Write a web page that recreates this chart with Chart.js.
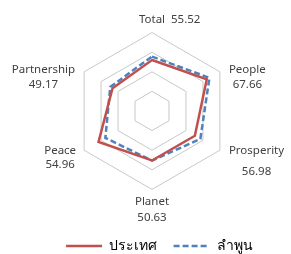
<!DOCTYPE html>
<html>
<head>
<meta charset="utf-8">
<script src="https://cdn.jsdelivr.net/npm/chart.js@4.4.1/dist/chart.umd.min.js"></script>
<style>
  html, body { margin: 0; padding: 0; background: #fff; }
  #wrap { width: 291px; height: 254px; }
</style>
</head>
<body>
<div id="wrap"><canvas id="radarChart" width="291" height="254"></canvas></div>
<script>
// ด้านต่างๆ (เรียงตามเข็มนาฬิกาจากด้านบน)
const categories = ["Total", "People", "Prosperity", "Planet", "Peace", "Partnership"];
// ค่าของลำพูน (ตัวเลขที่แสดงบนป้าย)
const lamphunValues = [55.52, 67.66, 56.98, 50.63, 54.96, 49.17];
// ค่าของประเทศ (อ่านจากภาพ)
const countryValues = [52.0, 64.5, 50.5, 50.5, 63.0, 46.5];
const seriesNames = ["ประเทศ", "ลำพูน"];

// ป้ายแต่ละด้าน: Total อยู่บรรทัดเดียว ที่เหลือขึ้นบรรทัดใหม่
const pointLabels = categories.map((c, i) => {
  const v = lamphunValues[i].toFixed(2);
  if (i === 0) return c + "  " + v;
  if (c === "Prosperity") return [c, "", v];
  return [c, v];
});

const lineColors = ["#c0504d", "#4f81bd"];
const lineDashes = [[], [6, 3]];

// ระยะห่างของป้ายจากมุมหกเหลี่ยม (แนวนอน, บรรทัดแรก, บรรทัดที่สอง)
const labelGap = [0, 9, 9, 0, 8, 9];
const labelDy = [[-13, -13], [-2, 13], [1, 22], [12, 28], [1, 15], [-2, 13]];

// วาดป้ายเองให้ตำแหน่งเหมือน Excel
const sideLabels = {
  id: "sideLabels",
  afterDraw(chart) {
    const scale = chart.scales.r;
    const c = chart.ctx;
    c.save();
    c.font = "11.5px 'Noto Sans', sans-serif";
    c.fillStyle = "#404040";
    c.textBaseline = "middle";
    categories.forEach((name, i) => {
      const p = scale.getPointPosition(i, scale.drawingArea);
      const val = lamphunValues[i].toFixed(2);
      if (i === 0) {
        const w = c.measureText(name).width;
        c.textAlign = "left";
        c.fillText(name + "  " + val, p.x - w / 2, p.y + labelDy[i][0]);
        return;
      }
      const w = Math.max(c.measureText(name).width, c.measureText(val).width);
      let cx = p.x;
      if (p.x > scale.xCenter + 1) cx = p.x + labelGap[i] + w / 2;
      else if (p.x < scale.xCenter - 1) cx = p.x - labelGap[i] - w / 2;
      c.textAlign = "center";
      c.fillText(name, cx, p.y + labelDy[i][0]);
      c.fillText(val, cx, p.y + labelDy[i][1]);
    });
    c.restore();
  },
};

const ctx = document.getElementById("radarChart").getContext("2d");
new Chart(ctx, {
  type: "radar",
  data: {
    labels: pointLabels,
    datasets: [
      {
        label: seriesNames[0],
        data: countryValues,
        borderColor: lineColors[0],
        borderWidth: 2.5,
        fill: false,
        pointRadius: 0,
        tension: 0,
      },
      {
        label: seriesNames[1],
        data: lamphunValues,
        borderColor: lineColors[1],
        borderWidth: 2.5,
        borderDash: lineDashes[1],
        fill: false,
        pointRadius: 0,
        tension: 0,
      },
    ],
  },
  options: {
    responsive: false,
    animation: false,
    layout: { padding: { top: 5, bottom: -9, left: 4, right: 0 } },
    plugins: {
      legend: {
        position: "bottom",
        align: "end",
        labels: {
          usePointStyle: true,
          pointStyle: "line",
          pointStyleWidth: 36,
          boxHeight: 8,
          padding: 2,
          color: "#222",
          font: { family: "'Noto Sans', sans-serif", size: 14 },
          // เส้นประใน legend ต้องกำหนดเอง
          generateLabels(chart) {
            return chart.data.datasets.map((ds, i) => ({
              text: ds.label + (i === 0 ? "    " : "          "),
              fillStyle: lineColors[i],
              strokeStyle: lineColors[i],
              lineWidth: 2.5,
              lineDash: lineDashes[i],
              pointStyle: "line",
              hidden: false,
              datasetIndex: i,
            }));
          },
        },
      },
      tooltip: { enabled: false },
    },
    scales: {
      r: {
        min: 0,
        max: 80,
        ticks: { stepSize: 20, display: false },
        grid: { color: "#c8c8c8", lineWidth: 1 },
        angleLines: { display: false },
        // ป้ายของ Chart.js ใช้จัดขนาดเท่านั้น ตัวที่เห็นวาดใน sideLabels
        pointLabels: {
          color: "rgba(0,0,0,0)",
          padding: (c) => (c.index === 3 ? 10 : 5),
          font: { family: "'Noto Sans', sans-serif", size: 11.5 },
        },
      },
    },
  },
  plugins: [sideLabels],
});
</script>
</body>
</html>
